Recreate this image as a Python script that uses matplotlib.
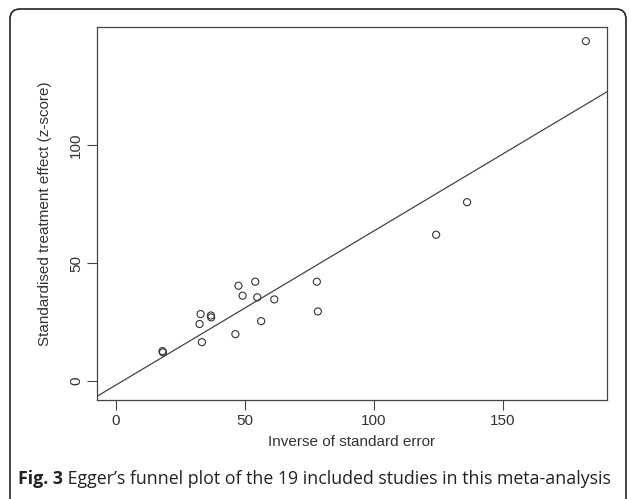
import numpy as np
import matplotlib
matplotlib.use("Agg")
import matplotlib.pyplot as plt
from matplotlib.patches import FancyBboxPatch
from matplotlib.transforms import IdentityTransform

# precision (1/SE) and standardised effect for the 19 studies
precision = [18.0, 18.2, 32.8, 32.4, 33.3, 36.8, 36.9, 47.5, 49.1, 46.3,
             54.0, 54.8, 56.3, 61.4, 77.9, 78.3, 124.2, 136.2, 182.3]
zscore = [12.7, 12.2, 28.4, 24.2, 16.5, 27.8, 27.0, 40.4, 36.2, 19.9,
          42.1, 35.5, 25.4, 34.6, 42.1, 29.5, 62.0, 75.8, 144.0]
xticks = [0, 50, 100, 150]
yticks = [0, 50, 100]

plt.rcParams["font.family"] = ["Liberation Sans", "DejaVu Sans"]

fig = plt.figure(figsize=(6.29, 4.99), dpi=100)

# rounded frame round the whole figure
frame = FancyBboxPatch((10, -30), 616, 520, boxstyle="round,pad=0,rounding_size=10",
                       transform=IdentityTransform(), fill=False, ec="#222222", lw=1.2)
fig.patches.append(frame)

ax = fig.add_axes([97/629, 99/499, 510/629, 373/499])

ax.scatter(precision, zscore, s=26, facecolors="none", edgecolors="#333333", linewidths=0.8, zorder=3)

slope, intercept = np.polyfit(precision, zscore, 1)
xl = np.array([-7.4, 191])
ax.plot(xl, intercept + slope * xl, color="#444444", lw=0.9)

ax.set_xlim(-7.4, 190.5)
ax.set_ylim(-8, 150)
ax.set_xticks(xticks)
ax.set_yticks(yticks)
ax.tick_params(length=7, width=0.8, color="#444444", labelsize=11, labelcolor="#333333", pad=3)
plt.setp(ax.get_yticklabels(), rotation=90, va="center")
for s in ax.spines.values():
    s.set_color("#444444")
    s.set_linewidth(0.9)

ax.set_xlabel("Inverse of standard error", fontsize=11, color="#333333", labelpad=5)
ax.set_ylabel("Standardised treatment effect (z-score)", fontsize=11, color="#333333", labelpad=12)

t1 = fig.text(18/629, 1 - 479/499, "Fig. 3", fontsize=12.8, fontweight="bold",
              family="Open Sans", va="center", color="#222222")
ax.annotate(" Egger\u2019s funnel plot of the 19 included studies in this meta-analysis",
            xy=(1, 0), xycoords=t1, va="bottom", ha="left", fontsize=12.8,
            family="Open Sans", color="#222222", annotation_clip=False)

fig.savefig("out.png", dpi=100)
